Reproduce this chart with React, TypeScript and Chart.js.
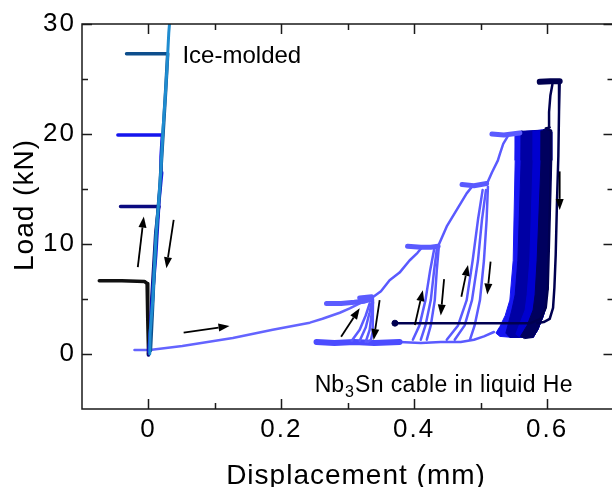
import { useEffect, useRef } from 'react';
import { Chart, registerables } from 'chart.js';

Chart.register(...registerables);

type P = [number, number];

// ---- axes ----
const X_MIN = -0.1;
const X_MAX = 0.7;
const Y_MIN = -5;
const Y_MAX = 30;
const X_MAJOR = [0, 0.2, 0.4, 0.6];
const X_MINOR = [0.1, 0.3, 0.5];
const Y_MAJOR = [0, 10, 20, 30];
const Y_MINOR = [5, 15, 25];
const X_TICK_LABELS = ['0', '0.2', '0.4', '0.6'];
const Y_TICK_LABELS = ['0', '10', '20', '30'];
const X_TITLE = 'Displacement (mm)';
const Y_TITLE = 'Load (kN)';

// ---- ice-molded sample (near zero displacement) ----
const ICE_BLACK: P[] = [[-0.074, 6.65], [-0.04, 6.65], [-0.006, 6.6], [-0.002, 6.4], [-0.001, 5.5], [-0.001, 3], [0.0, 0.5], [0.0, 0.0]];
const ICE_NAVY: P[] = [[0.0, -0.1], [0.003, 2], [0.005, 5], [0.008, 8], [0.011, 11], [0.015, 13.2], [0.016, 13.4], [-0.01, 13.4], [-0.042, 13.4]];
const ICE_BLUE: P[] = [[0.001, 0.2], [0.004, 3], [0.007, 6], [0.011, 9], [0.016, 14], [0.02, 16.5], [0.019, 18], [0.021, 19.9], [-0.01, 19.9], [-0.046, 19.9]];
const ICE_STEEL: P[] = [[0.003, 0.3], [0.006, 4], [0.009, 8], [0.013, 12], [0.017, 15], [0.023, 21], [0.026, 24], [0.029, 27.3], [-0.01, 27.3], [-0.033, 27.3]];
const ICE_LIGHT: P[] = [[0.002, 0], [0.0025, 1.9], [0.0065, 4.9], [0.009, 7.9], [0.0116, 11], [0.0156, 14], [0.019, 17], [0.0216, 20.1], [0.025, 23.1], [0.028, 26.1], [0.0306, 29.2], [0.0317, 30]];

// ---- Nb3Sn cable in liquid He: stepwise cycles ----
const V_LOAD1: P[] = [[-0.021, 0.36], [0.002, 0.36], [0.051, 0.73], [0.127, 1.45], [0.187, 2.2], [0.243, 2.85], [0.262, 3.2], [0.288, 3.75], [0.303, 4.15], [0.318, 4.6], [0.33, 4.9], [0.336, 5.0]];
const V_HOLD5: P[] = [[0.268, 4.6], [0.29, 4.6], [0.31, 4.7], [0.325, 4.8], [0.336, 5.0]];
const V_HOLD5B: P[] = [[0.318, 5.1], [0.336, 5.2]];
const V_UNLOAD5: P[] = [[0.338, 4.9], [0.338, 3.5], [0.337, 2.0], [0.335, 1.3], [0.33, 1.1]];
const V_RELOAD5A: P[] = [[0.306, 1.2], [0.318, 2.2], [0.327, 3.5], [0.333, 4.6]];
const V_RELOAD5B: P[] = [[0.318, 1.2], [0.327, 2.4], [0.333, 3.8], [0.336, 4.7]];
const V_RELOAD5C: P[] = [[0.327, 1.1], [0.333, 2.2], [0.336, 3.7], [0.338, 4.7]];
const V_BOTTOM1: P[] = [[0.253, 1.1], [0.28, 1.0], [0.31, 1.1], [0.34, 1.0], [0.378, 1.1]];
const V_BOTTOM2: P[] = [[0.33, 1.1], [0.378, 1.1], [0.41, 1.0], [0.44, 1.1], [0.47, 1.1], [0.49, 1.3], [0.505, 1.6], [0.52, 2.0]];
const V_LOAD10: P[] = [[0.336, 5.1], [0.35, 5.7], [0.363, 6.7], [0.378, 7.4], [0.393, 8.5], [0.405, 9.2], [0.412, 9.7]];
const V_HOLD10: P[] = [[0.39, 9.8], [0.41, 9.7], [0.425, 9.7], [0.436, 9.8]];
const V_UNLOAD10: P[] = [[0.437, 9.7], [0.434, 7.6], [0.431, 4.9], [0.425, 2.6], [0.419, 1.3]];
const V_RELOAD10A: P[] = [[0.398, 1.3], [0.408, 2.6], [0.417, 4.9], [0.424, 7.6], [0.43, 9.5]];
const V_RELOAD10B: P[] = [[0.41, 1.3], [0.417, 2.6], [0.425, 4.9], [0.43, 7.6], [0.434, 9.5]];
const V_LOAD15: P[] = [[0.436, 9.8], [0.449, 11.6], [0.464, 13.1], [0.479, 14.6], [0.487, 15.2]];
const V_HOLD15: P[] = [[0.472, 15.4], [0.49, 15.3], [0.509, 15.5]];
const V_UNLOAD15: P[] = [[0.511, 15.2], [0.509, 12.2], [0.505, 8.5], [0.499, 4.9], [0.491, 2.6], [0.484, 1.3]];
const V_RELOAD15A: P[] = [[0.449, 1.3], [0.466, 2.6], [0.479, 4.9], [0.488, 8.5], [0.496, 12.2], [0.503, 14.9]];
const V_RELOAD15B: P[] = [[0.461, 1.3], [0.476, 2.6], [0.487, 4.9], [0.496, 8.5], [0.502, 12.2], [0.508, 14.9]];
const V_LOAD20: P[] = [[0.509, 15.4], [0.517, 16.5], [0.526, 17.6], [0.529, 18.2], [0.534, 19.1], [0.541, 19.8]];
const V_HOLD20: P[] = [[0.517, 20.0], [0.535, 19.9], [0.559, 20.1]];

// ---- repeated cycles at 20 kN (dense band) ----
const BAND_RIGHT: P[] = [[0.579, 1.5], [0.586, 2.2], [0.594, 3.4], [0.597, 4.0], [0.6, 5.8], [0.601, 8.5], [0.603, 10.4], [0.606, 17.6], [0.607, 20.2], [0.595, 20.4]];
const BAND_BRIGHT_LEFT: P[] = [[0.553, 20.2], [0.552, 17.6], [0.549, 8.5], [0.544, 4.9], [0.537, 3.5], [0.529, 2.5], [0.523, 1.9], [0.529, 1.6], [0.55, 1.5]];
const BAND_DARK_LEFT: P[] = [[0.562, 20.3], [0.561, 17.6], [0.556, 8.5], [0.552, 5.4], [0.547, 4.0], [0.541, 2.6], [0.538, 1.9], [0.544, 1.5]];
const BAND_MEDIUM_LEFT: P[] = [[0.58, 20.3], [0.579, 17.6], [0.574, 8.5], [0.57, 5.4], [0.567, 4.0], [0.558, 2.6], [0.553, 1.8], [0.56, 1.5]];
const BAND_NAVY_LEFT: P[] = [[0.592, 20.3], [0.591, 17.6], [0.585, 8.5], [0.582, 5.4], [0.579, 4.0], [0.57, 2.6], [0.56, 1.6], [0.566, 1.4]];

// ---- final cycle to 25 kN ----
const NAVY_LOAD: P[] = [[0.371, 2.8], [0.45, 2.8], [0.52, 2.8], [0.575, 2.8], [0.59, 3.2], [0.598, 4.2], [0.601, 6], [0.603, 10.4], [0.605, 15], [0.606, 17.6], [0.606, 20.3], [0.598, 20.5], [0.604, 20.6], [0.603, 22], [0.605, 23.5], [0.608, 24.5]];
const NAVY_HOLD: P[] = [[0.589, 24.75], [0.605, 24.8], [0.619, 24.8]];
const NAVY_UNLOAD: P[] = [[0.619, 24.6], [0.618, 22], [0.617, 18], [0.615, 14], [0.613, 9], [0.611, 6], [0.609, 4.2], [0.604, 3.2], [0.595, 2.9], [0.585, 2.8]];
const NAVY_START: P[] = [[0.371, 2.8]];

// ---- arrows [fromX, fromY, toX, toY] ----
const ARROWS: [number, number, number, number][] = [
  [-0.016, 7.9, -0.007, 12.5],
  [0.038, 12.2, 0.027, 7.8],
  [0.053, 1.94, 0.122, 2.55],
  [0.29, 1.57, 0.318, 4.15],
  [0.348, 4.9, 0.339, 1.27],
  [0.401, 2.64, 0.413, 5.8],
  [0.445, 6.8, 0.44, 3.5],
  [0.471, 5.2, 0.481, 8.1],
  [0.515, 8.4, 0.51, 5.4],
  [0.619, 16.6, 0.619, 13.1],
];

// ---- annotations ----
const ICE_LABEL = { text: 'Ice-molded', x: 0.0512, y: 26.45 };
const CABLE_LABEL = { pre: 'Nb', sub: '3', post: 'Sn cable in liquid He', x: 0.2502, y: -3.45 };

const FONT = "'Liberation Sans', Arial, Helvetica, sans-serif";
const VIOLET = '#5a5aff';

type S = { data: P[]; color: string; width: number; fill?: boolean; point?: number };

const SERIES: S[] = [
  { data: [...BAND_BRIGHT_LEFT, ...BAND_RIGHT], color: '#1616f2', width: 1, fill: true },
  { data: [...BAND_DARK_LEFT, ...BAND_RIGHT], color: '#0000a4', width: 1, fill: true },
  { data: [...BAND_MEDIUM_LEFT, ...BAND_RIGHT], color: '#0000cf', width: 1, fill: true },
  { data: [...BAND_NAVY_LEFT, ...BAND_RIGHT], color: '#00005e', width: 1, fill: true },
  { data: V_BOTTOM2, color: VIOLET, width: 2.5 },
  { data: V_BOTTOM1, color: '#4c4cff', width: 6 },
  { data: V_LOAD1, color: '#6464ff', width: 2.5 },
  { data: V_HOLD5, color: '#5c5cff', width: 5 },
  { data: V_HOLD5B, color: '#5c5cff', width: 5 },
  { data: V_UNLOAD5, color: VIOLET, width: 2.5 },
  { data: V_RELOAD5A, color: VIOLET, width: 2.5 },
  { data: V_RELOAD5B, color: VIOLET, width: 2.5 },
  { data: V_RELOAD5C, color: VIOLET, width: 2.5 },
  { data: V_LOAD10, color: VIOLET, width: 2.5 },
  { data: V_HOLD10, color: VIOLET, width: 5 },
  { data: V_UNLOAD10, color: VIOLET, width: 2.5 },
  { data: V_RELOAD10A, color: VIOLET, width: 2.5 },
  { data: V_RELOAD10B, color: VIOLET, width: 2.5 },
  { data: V_LOAD15, color: VIOLET, width: 2.5 },
  { data: V_HOLD15, color: VIOLET, width: 5 },
  { data: V_UNLOAD15, color: VIOLET, width: 2.5 },
  { data: V_RELOAD15A, color: VIOLET, width: 2.5 },
  { data: V_RELOAD15B, color: VIOLET, width: 2.5 },
  { data: V_LOAD20, color: VIOLET, width: 2.5 },
  { data: V_HOLD20, color: VIOLET, width: 5 },
  { data: NAVY_LOAD, color: '#000050', width: 2.5 },
  { data: NAVY_HOLD, color: '#000050', width: 6 },
  { data: NAVY_UNLOAD, color: '#000050', width: 2.5 },
  { data: NAVY_START, color: '#000050', width: 1, point: 3 },
  { data: ICE_BLACK, color: '#111111', width: 3.5 },
  { data: ICE_NAVY, color: '#0a0a80', width: 3.5 },
  { data: ICE_BLUE, color: '#1515ee', width: 3.5 },
  { data: ICE_STEEL, color: '#0d4e8c', width: 3.5 },
  { data: ICE_LIGHT, color: '#1f8cd0', width: 3 },
];

function drawArrow(ctx: CanvasRenderingContext2D, x1: number, y1: number, x2: number, y2: number) {
  const ang = Math.atan2(y2 - y1, x2 - x1);
  const hl = 11;
  const hw = 4;
  const bx = x2 - hl * Math.cos(ang);
  const by = y2 - hl * Math.sin(ang);
  ctx.beginPath();
  ctx.moveTo(x1, y1);
  ctx.lineTo(bx, by);
  ctx.stroke();
  ctx.beginPath();
  ctx.moveTo(x2, y2);
  ctx.lineTo(bx + hw * Math.sin(ang), by - hw * Math.cos(ang));
  ctx.lineTo(bx - hw * Math.sin(ang), by + hw * Math.cos(ang));
  ctx.closePath();
  ctx.fill();
}

const decor = {
  id: 'decor',
  beforeDraw(chart: any) {
    (chart.ctx as any).letterSpacing = '2px';
  },
  afterDraw(chart: any) {
    const { ctx, chartArea: a, scales } = chart;
    const xs = scales.x;
    const ys = scales.y;
    ctx.save();
    // frame (right side lies outside the visible page)
    ctx.strokeStyle = '#1a1a1a';
    ctx.lineWidth = 1.5;
    ctx.beginPath();
    ctx.moveTo(a.right + 2, a.top);
    ctx.lineTo(a.left, a.top);
    ctx.lineTo(a.left, a.bottom);
    ctx.lineTo(a.right + 2, a.bottom);
    ctx.stroke();
    // inward ticks on all four sides
    const xt = (v: number, len: number) => {
      const p = Math.round(xs.getPixelForValue(v)) + 0.5;
      ctx.beginPath();
      ctx.moveTo(p, a.bottom);
      ctx.lineTo(p, a.bottom - len);
      ctx.moveTo(p, a.top);
      ctx.lineTo(p, a.top + len);
      ctx.stroke();
    };
    const yt = (v: number, len: number) => {
      const p = Math.round(ys.getPixelForValue(v)) + 0.5;
      ctx.beginPath();
      ctx.moveTo(a.left, p);
      ctx.lineTo(a.left + len, p);
      ctx.moveTo(a.right, p);
      ctx.lineTo(a.right - len, p);
      ctx.stroke();
    };
    X_MAJOR.forEach((v) => xt(v, 10));
    X_MINOR.forEach((v) => xt(v, 6));
    Y_MAJOR.forEach((v) => yt(v, 10));
    Y_MINOR.forEach((v) => yt(v, 6));

    // arrows
    ctx.strokeStyle = '#000';
    ctx.fillStyle = '#000';
    ctx.lineWidth = 1.8;
    ARROWS.forEach(([x1, y1, x2, y2]) =>
      drawArrow(ctx, xs.getPixelForValue(x1), ys.getPixelForValue(y1), xs.getPixelForValue(x2), ys.getPixelForValue(y2))
    );

    // axis titles
    ctx.fillStyle = '#000';
    ctx.letterSpacing = '1px';
    ctx.font = `28px ${FONT}`;
    ctx.textAlign = 'center';
    ctx.textBaseline = 'alphabetic';
    ctx.fillText(X_TITLE, 356, 484);
    ctx.save();
    ctx.translate(33, 205);
    ctx.rotate(-Math.PI / 2);
    ctx.fillText(Y_TITLE, 0, 0);
    ctx.restore();

    // annotations
    ctx.letterSpacing = '0px';
    ctx.textAlign = 'left';
    ctx.font = `24px ${FONT}`;
    ctx.fillText(ICE_LABEL.text, xs.getPixelForValue(ICE_LABEL.x), ys.getPixelForValue(ICE_LABEL.y));
    let cx = xs.getPixelForValue(CABLE_LABEL.x);
    const cy = ys.getPixelForValue(CABLE_LABEL.y);
    ctx.font = `23px ${FONT}`;
    ctx.fillText(CABLE_LABEL.pre, cx, cy);
    cx += ctx.measureText(CABLE_LABEL.pre).width + 1;
    ctx.font = `16px ${FONT}`;
    ctx.fillText(CABLE_LABEL.sub, cx, cy + 5);
    cx += ctx.measureText(CABLE_LABEL.sub).width + 1;
    ctx.font = `23px ${FONT}`;
    ctx.letterSpacing = '0.4px';
    ctx.fillText(CABLE_LABEL.post, cx, cy);
    ctx.restore();
  },
};

export default function App() {
  const ref = useRef<HTMLCanvasElement>(null);
  useEffect(() => {
    document.body.style.margin = '0';
    const canvas = ref.current!;
    const n = SERIES.length;
    const datasets = SERIES.map((s, i) => ({
      data: s.data.map(([x, y]) => ({ x, y })),
      showLine: true,
      borderColor: s.color,
      backgroundColor: s.color,
      borderWidth: s.width,
      pointRadius: s.point ?? 0,
      pointHoverRadius: 0,
      fill: s.fill ? 'shape' : false,
      borderJoinStyle: 'round',
      borderCapStyle: 'round',
      tension: 0,
      order: n - i,
    }));
    const chart = new Chart(canvas, {
      type: 'scatter',
      data: { datasets } as any,
      options: {
        animation: false,
        responsive: false,
        devicePixelRatio: 1,
        events: [],
        layout: { padding: { top: 24, right: 16.5, left: 0, bottom: 0 } },
        plugins: { legend: { display: false }, tooltip: { enabled: false } },
        scales: {
          x: {
            type: 'linear',
            min: X_MIN,
            max: X_MAX,
            grid: { display: false, drawTicks: false },
            border: { display: false },
            afterBuildTicks: (s: any) => {
              s.ticks = X_MAJOR.map((v) => ({ value: v }));
            },
            afterFit: (s: any) => {
              s.height = 78;
              s.paddingLeft = 0;
              s.paddingRight = 0;
            },
            ticks: {
              padding: 8,
              color: '#000',
              autoSkip: false,
              maxRotation: 0,
              font: { family: FONT, size: 26, lineHeight: 1 },
              callback: (_v: any, i: number) => X_TICK_LABELS[i],
            },
          },
          y: {
            type: 'linear',
            min: Y_MIN,
            max: Y_MAX,
            grid: { display: false, drawTicks: false },
            border: { display: false },
            afterBuildTicks: (s: any) => {
              s.ticks = Y_MAJOR.map((v) => ({ value: v }));
            },
            afterFit: (s: any) => {
              s.width = 82;
              s.paddingTop = 0;
              s.paddingBottom = 0;
            },
            ticks: {
              padding: 6,
              color: '#000',
              autoSkip: false,
              font: { family: FONT, size: 26, lineHeight: 1 },
              callback: (_v: any, i: number) => Y_TICK_LABELS[i],
            },
          },
        },
      } as any,
      plugins: [decor],
    });
    return () => chart.destroy();
  }, []);
  return (
    <div style={{ width: 612, height: 487, overflow: 'hidden', position: 'relative' }}>
      <canvas ref={ref} width={630} height={487} style={{ display: 'block', width: 630, height: 487 }} />
    </div>
  );
}
